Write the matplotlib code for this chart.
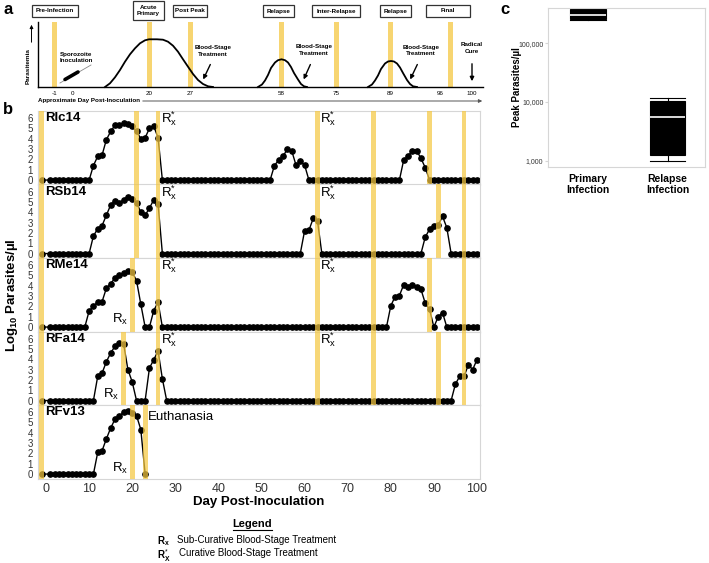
import matplotlib.pyplot as plt
import numpy as np
from matplotlib.patches import Rectangle
from matplotlib.ticker import FuncFormatter, NullLocator

plt.rcParams['font.family'] = ['Liberation Sans', 'DejaVu Sans']
plt.rcParams['mathtext.fontset'] = 'custom'
plt.rcParams['mathtext.rm'] = 'Liberation Sans'
plt.rcParams['mathtext.it'] = 'Liberation Sans:italic'
plt.rcParams['mathtext.bf'] = 'Liberation Sans:bold'

W, H = 709, 563
YELLOW = '#f5c842'
FRAME = '#d6d6d6'

# ---------------- panel a : schematic (drawn in picture pixels) ----------------
phase_names = ['Pre-Infection', 'Acute\nPrimary', 'Post Peak', 'Relapse',
               'Inter-Relapse', 'Relapse', 'Final']
phase_left = [32, 133, 173, 263, 312, 380, 426]
phase_right = [78, 164, 207, 294, 360, 411, 470]
phase_top = [5, 1, 5, 5, 5, 5, 5]
phase_bottom = [17, 20, 17, 17, 17, 17, 17]
schem_bands = [54.5, 149.5, 190.5, 281.5, 336, 390, 450]
schem_tick_pos = [54.5, 72.5, 149.5, 190.5, 281.5, 336, 390.5, 440, 472]
schem_tick_lab = ['-1', '0', '20', '27', '58', '75', '89', '96', '100']

primary_x = [105, 110, 115, 120, 125, 130, 135, 140, 145, 149, 157, 163, 168,
             173, 178, 183, 188, 193, 198, 203, 208, 213]
primary_y = [87, 83.3, 77.3, 70, 61.7, 54.3, 48.3, 43.3, 40.3, 39.3, 39.3, 39.7,
             41.7, 45.7, 51.7, 59.3, 66.7, 74, 80, 84, 86.3, 87]
relapse1_x = [258, 262, 265, 268, 271, 275, 278, 281.5, 285, 288, 291, 294,
              298, 301, 304, 307]
relapse1_y = [87, 84.5, 80.5, 75, 68, 62.5, 60.2, 59.3, 60.2, 62.5, 67, 73,
              79.5, 84, 86.3, 87]
relapse2_x = [368, 372, 375, 378, 381, 385, 388, 391, 394, 397, 400, 403,
              407, 410, 413, 417]
relapse2_y = [87, 84.5, 80.5, 75.5, 69, 63.5, 61.5, 61, 61.5, 63.5, 67.5, 73,
              80, 84, 86.3, 87]

treat_text = [(213, 51), (314, 50), (421, 50.5)]
treat_tail = [(211.5, 62), (311.5, 62), (418.5, 62)]
treat_head = [(202, 82), (302.5, 82), (409, 82)]

# ---------------- panel b : daily log10 parasitaemia ----------------
animals = ['RIc14', 'RSb14', 'RMe14', 'RFa14', 'RFv13']
last_day = [100, 100, 100, 100, 23]
ric14 = {11: 1.4, 12: 2.3, 13: 2.4, 14: 3.9, 15: 4.7, 16: 5.3, 17: 5.3, 18: 5.5,
         19: 5.4, 20: 5.2, 21: 4.7, 22: 4.0, 23: 4.1, 24: 5.0, 25: 5.2, 26: 4.1,
         53: 1.4, 54: 1.95, 55: 2.3, 56: 3.0, 57: 2.85, 58: 1.45, 59: 1.8, 60: 1.45,
         83: 1.95, 84: 2.3, 85: 2.85, 86: 2.85, 87: 2.1, 88: 1.2}
rsb14 = {11: 1.7, 12: 2.4, 13: 2.7, 14: 3.7, 15: 4.7, 16: 5.1, 17: 4.9, 18: 5.2,
         19: 5.5, 20: 5.3, 21: 4.9, 22: 4.0, 23: 3.7, 24: 4.4, 25: 5.2, 26: 4.8,
         60: 2.2, 61: 2.25, 62: 3.4, 63: 3.15,
         88: 1.6, 89: 2.35, 90: 2.7, 91: 2.75, 92: 3.6, 93: 2.5}
rme14 = {10: 1.55, 11: 2.0, 12: 2.45, 13: 2.45, 14: 3.75, 15: 4.2, 16: 4.75,
         17: 5.0, 18: 5.2, 19: 5.45, 20: 5.3, 21: 4.5, 22: 2.2, 25: 1.6, 26: 2.4,
         80: 2.05, 81: 2.95, 82: 3.05, 83: 4.1, 84: 3.85, 85: 4.1, 86: 3.85,
         87: 3.65, 88: 2.3, 89: 1.7, 91: 1.0, 92: 1.4}
rfa14 = {12: 2.35, 13: 2.65, 14: 3.75, 15: 4.6, 16: 5.25, 17: 5.6, 18: 5.5,
         19: 3.0, 20: 1.8, 24: 3.15, 25: 3.95, 26: 4.8, 27: 2.1,
         95: 1.6, 96: 2.35, 97: 2.35, 98: 3.45, 99: 3.0, 100: 3.95}
rfv13 = {12: 2.1, 13: 2.25, 14: 3.4, 15: 4.45, 16: 5.3, 17: 5.6, 18: 6.0,
         19: 6.1, 20: 5.9, 21: 5.65, 22: 4.3}
parasites = [ric14, rsb14, rme14, rfa14, rfv13]

band_days = [[-1, 21, 26, 63, 76, 89, 97],
             [-1, 21, 26, 63, 76, 91, 97],
             [-1, 20, 26, 63, 76, 89, 97],
             [-1, 18, 26, 63, 76, 91, 97],
             [-1, 20, 23]]
curative_days = [[26.7, 63.6], [26.7, 63.6], [26.7, 63.6], [26.7, 63.6], []]
subcurative = [None, None, (19, 0.75), (16.9, 0.55), (19, 0.55)]

# ---------------- panel c : peak parasitaemia ----------------
groups = ['Primary\nInfection', 'Relapse\nInfection']
box_low = [250000, 990]
box_q1 = [262000, 1250]
box_med = [305000, 5500]
box_q3 = [378000, 10600]
box_high = [392000, 11500]

fig = plt.figure(figsize=(W / 100, H / 100), dpi=100)

# overlay axes in pixel units for the schematic and free text
ax_a = fig.add_axes([0, 0, 1, 1])
ax_a.set_xlim(0, W)
ax_a.set_ylim(H, 0)
ax_a.axis('off')

for name, x0, x1, y0, y1 in zip(phase_names, phase_left, phase_right, phase_top, phase_bottom):
    ax_a.add_patch(Rectangle((x0, y0), x1 - x0, y1 - y0, fill=False, ec='#333333', lw=0.9))
    ax_a.text((x0 + x1) / 2, (y0 + y1) / 2, name, ha='center', va='center',
              fontsize=4.5, fontweight='bold', linespacing=1.3)
for bx in schem_bands:
    ax_a.add_patch(Rectangle((bx - 2.5, 22), 5, 65, color=YELLOW, alpha=0.75, lw=0))
ax_a.plot(primary_x, primary_y, color='black', lw=1.3)
ax_a.plot(relapse1_x, relapse1_y, color='black', lw=1.3)
ax_a.plot(relapse2_x, relapse2_y, color='black', lw=1.3)
ax_a.plot([38, 38], [22, 87], color='black', lw=1.0)
ax_a.plot([38, 483], [87, 87], color='black', lw=1.0)
for p, lab in zip(schem_tick_pos, schem_tick_lab):
    ax_a.text(p, 93.5, lab, ha='center', va='center', fontsize=4.5)
ax_a.text(38, 100.5, 'Approximate Day Post-Inoculation', ha='left', va='center',
          fontsize=4.5, fontweight='bold')
ax_a.annotate('', xy=(485, 101), xytext=(140, 101),
              arrowprops=dict(arrowstyle='-|>', color='#555555', lw=0.7, mutation_scale=5))
ax_a.text(28, 66, 'Parasitemia', rotation=90, ha='center', va='center',
          fontsize=4.6, fontweight='bold')
ax_a.annotate('', xy=(31.5, 22), xytext=(31.5, 45),
              arrowprops=dict(arrowstyle='-|>', color='black', lw=0.7, mutation_scale=5))
# sporozoite syringe
ax_a.plot([60, 91], [83, 65], color='#888888', lw=0.6)
ax_a.plot([65, 78], [79.5, 72], color='black', lw=2.6, solid_capstyle='round')
ax_a.text(76, 57.5, 'Sporozoite\nInoculation', ha='center', va='center',
          fontsize=4.5, fontweight='bold', linespacing=1.3)
for (tx, ty), tail, head in zip(treat_text, treat_tail, treat_head):
    ax_a.text(tx, ty, 'Blood-Stage\nTreatment', ha='center', va='center',
              fontsize=4.5, fontweight='bold', linespacing=1.3)
    ax_a.annotate('', xy=head, xytext=tail,
                  arrowprops=dict(arrowstyle='-|>', color='black', lw=1.0, mutation_scale=6))
ax_a.text(472, 48, 'Radical\nCure', ha='center', va='center',
          fontsize=4.5, fontweight='bold', linespacing=1.3)
ax_a.annotate('', xy=(472, 84), xytext=(472, 61),
              arrowprops=dict(arrowstyle='-|>', color='black', lw=1.0, mutation_scale=6))

# panel letters
ax_a.text(3, 10, 'a', fontsize=12, fontweight='bold', va='center')
ax_a.text(3, 110, 'b', fontsize=12, fontweight='bold', va='center')
ax_a.text(500, 10, 'c', fontsize=12, fontweight='bold', va='center')

# legend text under panel b
ax_a.text(252, 524, 'Legend', ha='center', va='center', fontsize=8, fontweight='bold')
ax_a.plot([233, 272], [530, 530], color='black', lw=0.8)
ax_a.text(157, 541, r'$\mathbf{R}_{\mathbf{x}}$', ha='left', va='center', fontsize=7)
ax_a.text(177, 540, 'Sub-Curative Blood-Stage Treatment', ha='left', va='center', fontsize=7)
ax_a.text(157, 556, r'$\mathbf{R}_{\mathbf{X}}^{*}$', ha='left', va='center', fontsize=7)
ax_a.text(179, 552.5, 'Curative Blood-Stage Treatment', ha='left', va='center', fontsize=7)

# ---------------- panel b ----------------
row_h = 73.5
for i, name in enumerate(animals):
    top = 111 + i * row_h
    ax = fig.add_axes([38 / W, 1 - (top + row_h) / H, 442 / W, row_h / H])
    days = [-1] + list(range(1, last_day[i] + 1))
    vals = [parasites[i].get(d, 0.0) for d in days]
    ax.plot(days, vals, color='black', lw=1.0, marker='o', ms=3.8, zorder=2, clip_on=False)
    for d in band_days[i]:
        ax.axvspan(d - 0.55, d + 0.55, color=YELLOW, alpha=0.72, lw=0, zorder=3)
    ax.set_xlim(-1.86, 100.7)
    ax.set_ylim(-0.43, 6.68)
    ax.set_yticks(range(0, 7))
    ax.tick_params(axis='y', length=0, pad=3.5, labelsize=7, labelcolor='#333333')
    for s in ax.spines.values():
        s.set_color(FRAME)
        s.set_linewidth(0.8)
    ax.text(-0.1, 6.0, name, fontsize=9.5, fontweight='bold', ha='left', va='center')
    for cx in curative_days[i]:
        ax.text(cx, 5.9, r'$\mathrm{R}_{\mathrm{x}}^{*}$', fontsize=9.5, ha='left', va='center')
    if subcurative[i] is not None:
        sx, sy = subcurative[i]
        ax.text(sx, sy, r'$\mathrm{R}_{\mathrm{x}}$', fontsize=9.5, ha='right', va='center')
    if i == 4:
        ax.text(23.7, 5.5, 'Euthanasia', fontsize=9.5, ha='left', va='center')
        ax.set_xticks(range(0, 101, 10))
        ax.tick_params(axis='x', length=0, pad=3, labelsize=9, labelcolor='#333333')
        ax.set_xlabel('Day Post-Inoculation', fontsize=9.5, fontweight='bold', labelpad=1)
    else:
        ax.set_xticks([])

fig.text(12 / W, 1 - 295 / H, r'Log$_{\mathbf{10}}$ Parasites/µl', rotation=90,
         ha='center', va='center', fontsize=9.5, fontweight='bold')

# ---------------- panel c ----------------
ax_c = fig.add_axes([548.3 / W, 1 - 166.7 / H, 156.7 / W, 158.4 / H])
stats = []
for g, lo, q1, med, q3, hi in zip(groups, box_low, box_q1, box_med, box_q3, box_high):
    stats.append(dict(label=g, whislo=lo, q1=q1, med=med, q3=q3, whishi=hi, fliers=[]))
ax_c.set_yscale('log')
ax_c.bxp(stats, positions=[1, 2], widths=0.45, capwidths=0.45, patch_artist=True,
         showfliers=False,
         boxprops=dict(facecolor='black', edgecolor='black', lw=0.8),
         medianprops=dict(color='white', lw=1.2),
         whiskerprops=dict(color='black', lw=0.8),
         capprops=dict(color='black', lw=0.8))
ax_c.set_xlim(0.502, 2.47)
ax_c.set_ylim(791, 395000)
ax_c.set_yticks([1000, 10000, 100000])
ax_c.yaxis.set_minor_locator(NullLocator())
ax_c.yaxis.set_major_formatter(FuncFormatter(lambda v, p: f'{int(round(v)):,}'))
ax_c.tick_params(axis='y', length=2, color=FRAME, pad=1.5, labelsize=5, labelcolor='#333333')
ax_c.tick_params(axis='x', length=0, pad=5)
for lab in ax_c.get_xticklabels():
    lab.set_fontsize(7.5)
    lab.set_fontweight('bold')
for s in ax_c.spines.values():
    s.set_color(FRAME)
    s.set_linewidth(0.8)
ax_c.set_ylabel('Peak Parasites/µl', fontsize=7, fontweight='bold')
ax_c.yaxis.set_label_coords(-0.17, 0.5)

fig.savefig('out.png', dpi=100)
